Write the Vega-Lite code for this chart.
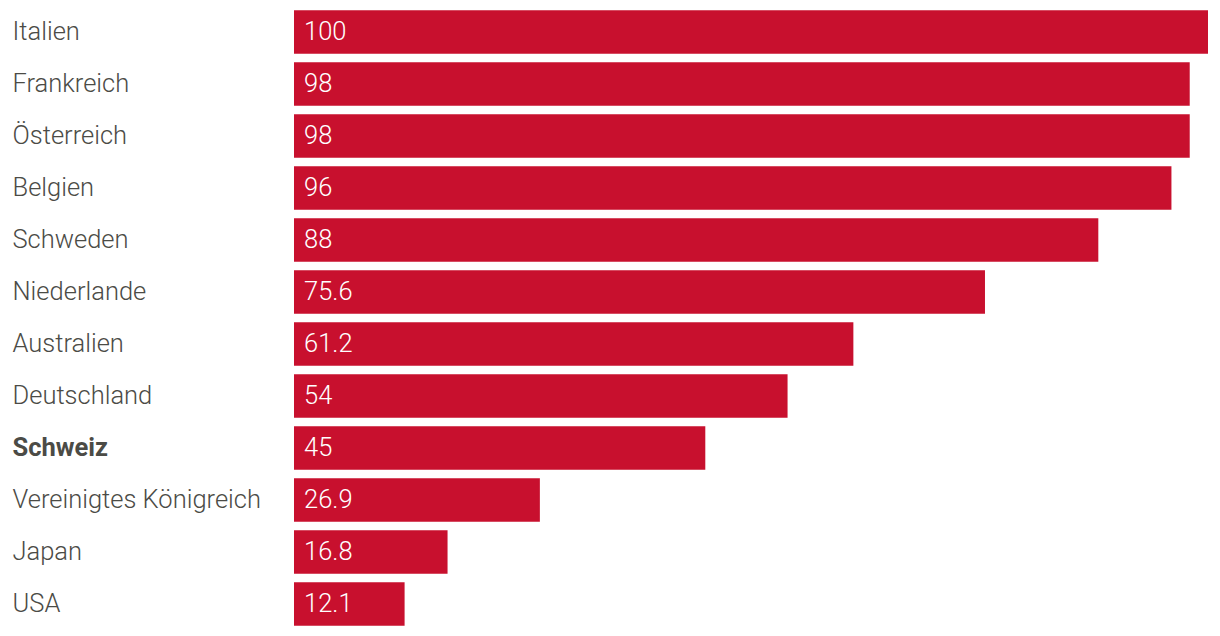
{
  "$schema": "https://vega.github.io/schema/vega-lite/v6.json",
  "width": 914,
  "height": 624,
  "autosize": {"type": "none"},
  "padding": {"left": 294, "top": 6, "right": 12, "bottom": 6},
  "background": "white",
  "config": {"view": {"stroke": null}, "font": "Roboto"},
  "data": {"values": [
    {"land": "Italien", "wert": 100, "label": "100"},
    {"land": "Frankreich", "wert": 98, "label": "98"},
    {"land": "Österreich", "wert": 98, "label": "98"},
    {"land": "Belgien", "wert": 96, "label": "96"},
    {"land": "Schweden", "wert": 88, "label": "88"},
    {"land": "Niederlande", "wert": 75.6, "label": "75.6"},
    {"land": "Australien", "wert": 61.2, "label": "61.2"},
    {"land": "Deutschland", "wert": 54, "label": "54"},
    {"land": "Schweiz", "wert": 45, "label": "45"},
    {"land": "Vereinigtes Königreich", "wert": 26.9, "label": "26.9"},
    {"land": "Japan", "wert": 16.8, "label": "16.8"},
    {"land": "USA", "wert": 12.1, "label": "12.1"}
  ]},
  "encoding": {
    "y": {
      "field": "land", "type": "nominal", "sort": null,
      "scale": {"paddingInner": 0.165, "paddingOuter": 0.0825},
      "axis": {
        "title": null, "domain": false, "ticks": false, "tickSize": 0,
        "labelAlign": "left", "labelPadding": 282, "labelFont": "Roboto",
        "labelFontSize": 25.5, "labelColor": "#4b4b46", "labelLimit": 300,
        "labelFontWeight": {"condition": {"test": "datum.value == 'Schweiz'", "value": "bold"}, "value": 300}
      }
    }
  },
  "layer": [
    {
      "mark": {"type": "bar", "color": "#c8102e"},
      "encoding": {
        "x": {"field": "wert", "type": "quantitative", "scale": {"domain": [0, 100], "nice": false}, "axis": null}
      }
    },
    {
      "mark": {"type": "text", "align": "left", "baseline": "middle", "dx": 10, "color": "white", "fontSize": 25.5, "font": "Roboto", "fontWeight": 300},
      "encoding": {
        "x": {"datum": 0, "type": "quantitative"},
        "text": {"field": "label"}
      }
    }
  ]
}
